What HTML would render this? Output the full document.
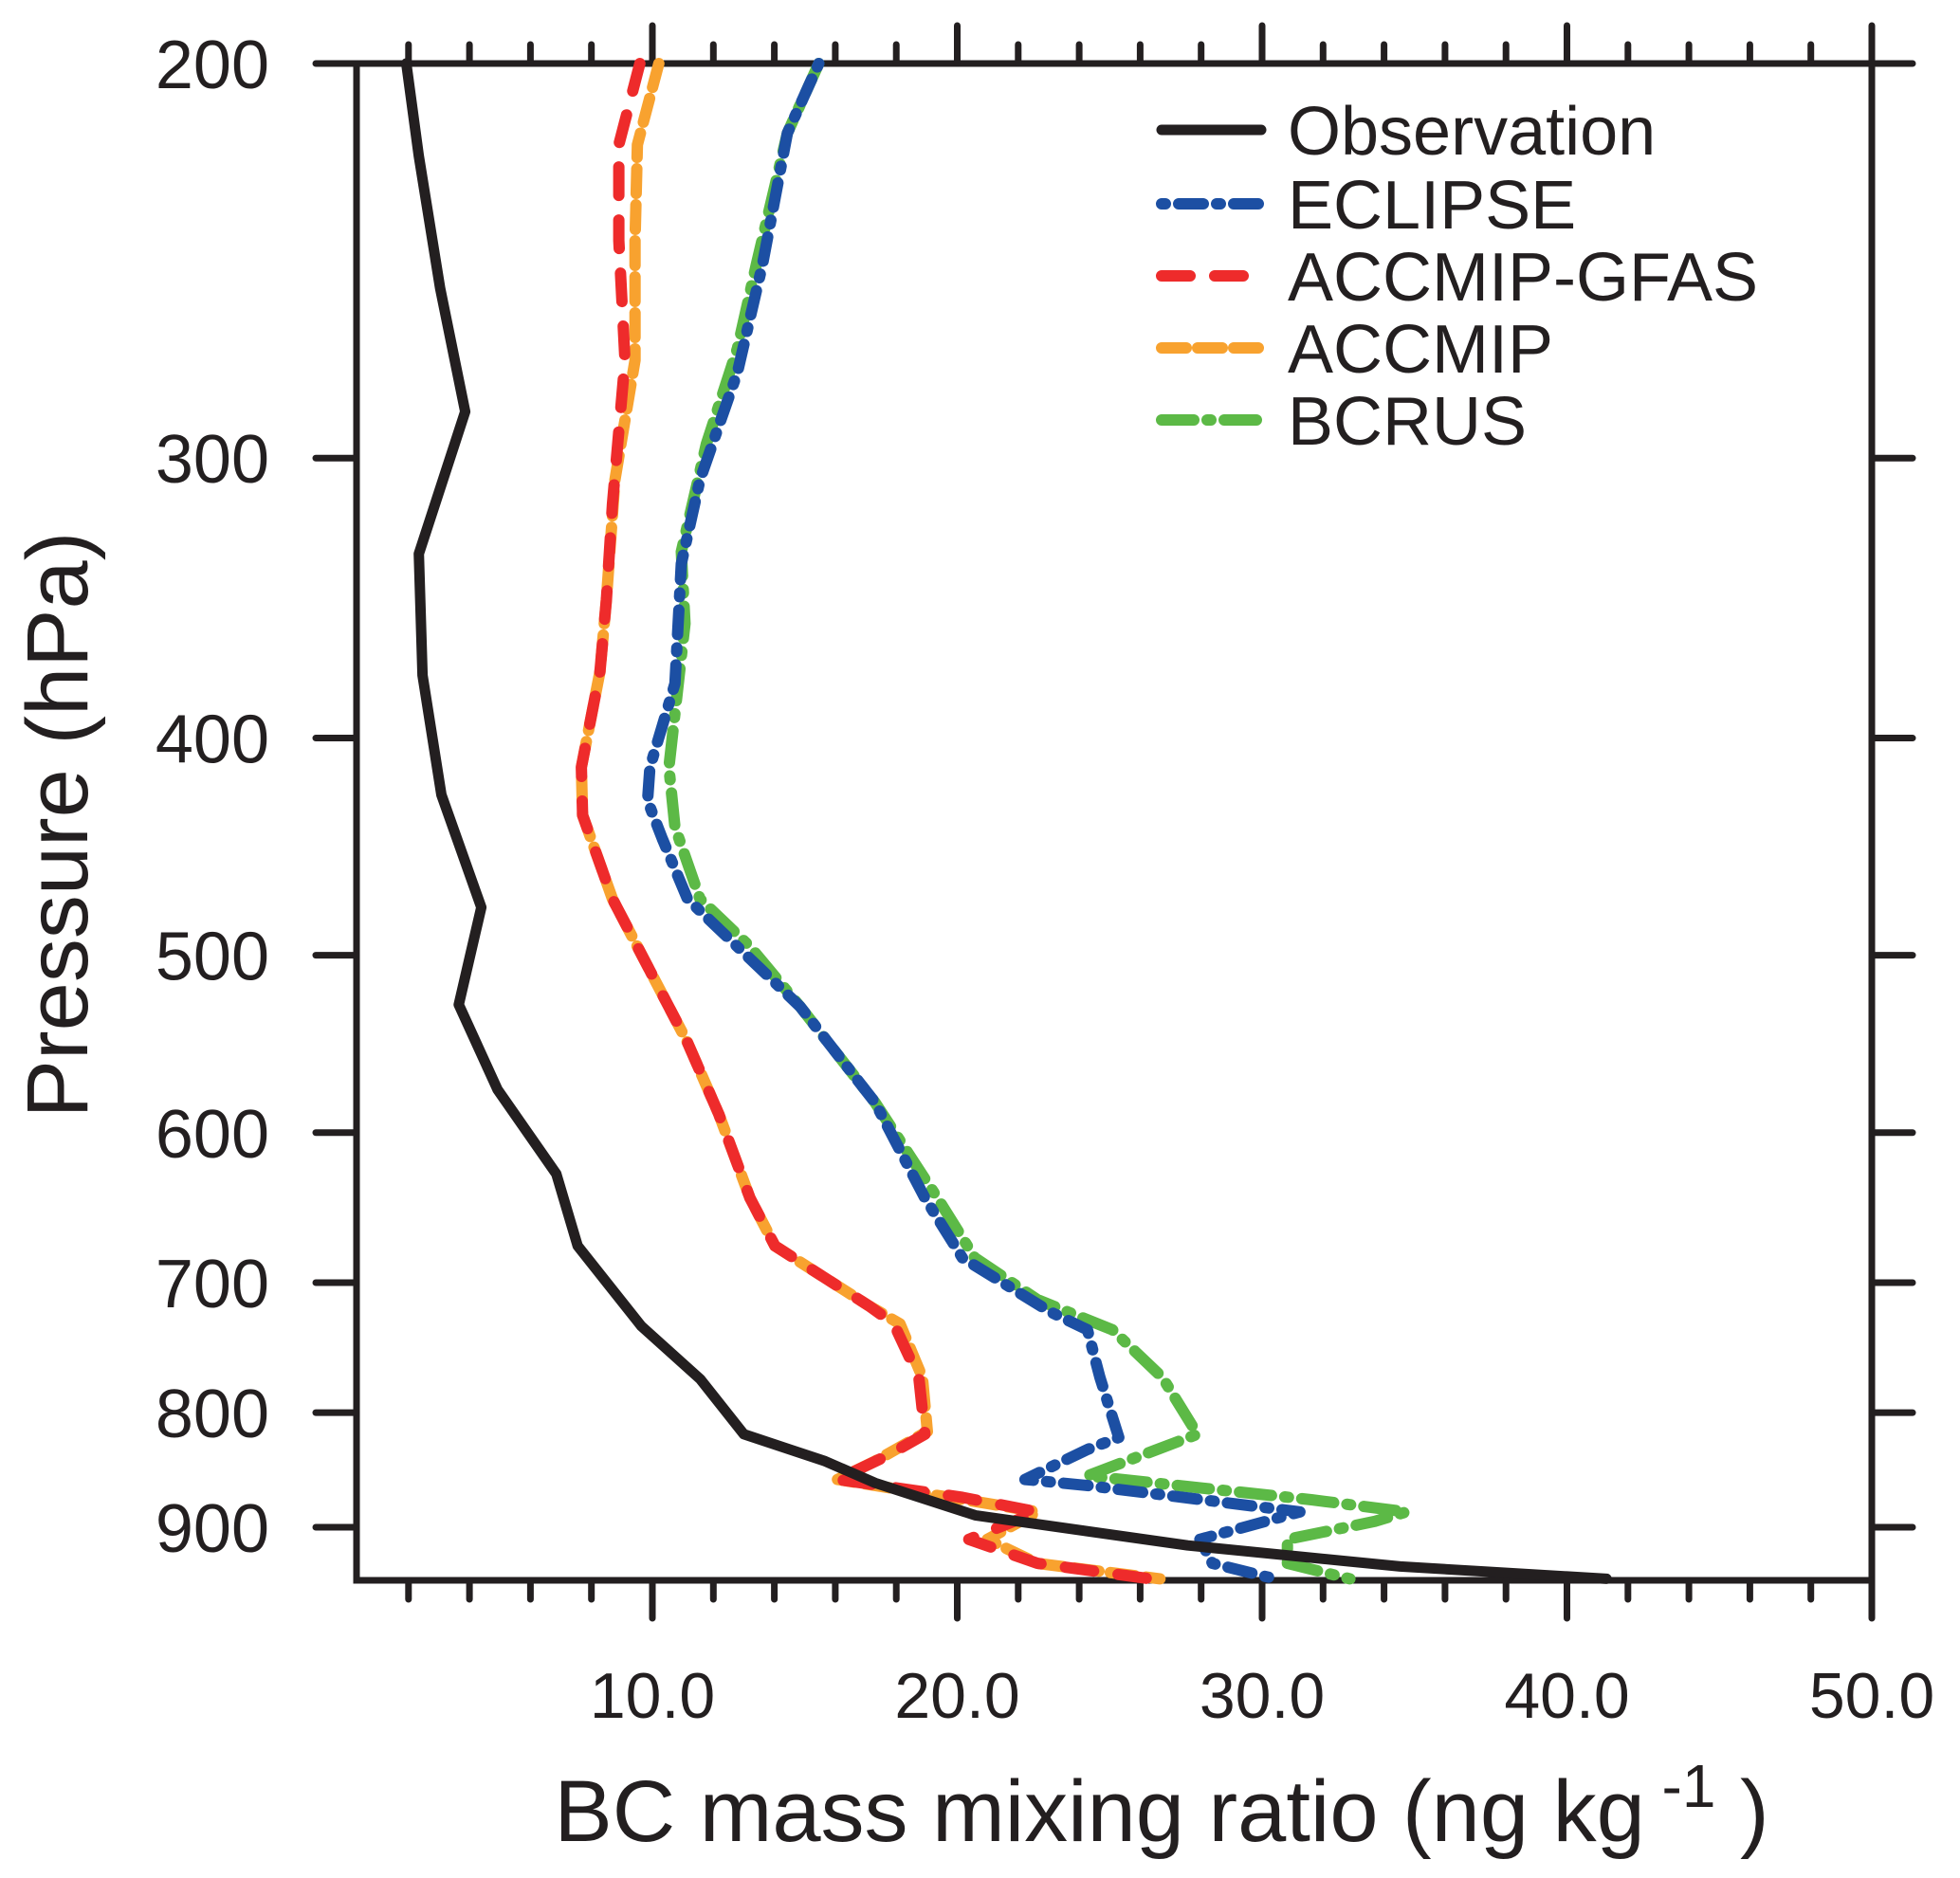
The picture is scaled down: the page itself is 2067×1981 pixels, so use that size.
<!DOCTYPE html>
<html><head><meta charset="utf-8"><style>
html,body{margin:0;padding:0;background:#fff}
svg{display:block}
text{font-family:"Liberation Sans",Arial,sans-serif;fill:#231f20}
</style></head><body>
<svg id="chart" width="2067" height="1981" viewBox="0 0 2067 1981">
<g id="frame"></g>
<g id="series"></g>
<g id="legend"></g>
<text x="1225" y="1942" font-size="92" text-anchor="middle">BC mass mixing ratio (ng kg<tspan font-size="64" dy="-36"> -1</tspan><tspan dy="36"> )</tspan></text>
<text transform="translate(92,870) rotate(-90)" font-size="92" text-anchor="middle">Pressure (hPa)</text>
</svg>
<script>
const xTicks=[10,20,30,40,50];
const xTickLabels=["10.0","20.0","30.0","40.0","50.0"];
const yTicks=[200,300,400,500,600,700,800,900];
const yTickLabels=["200","300","400","500","600","700","800","900"];
const seriesNames=["Observation","ECLIPSE","ACCMIP-GFAS","ACCMIP","BCRUS"];
const obsX=[1.93,2.34,3.04,3.86,2.34,2.46,3.08,4.39,3.65,4.92,6.85,7.55,9.64,11.57,13.0,15.67,17.31,20.59,27.56,34.53,41.3];
const obsP=[200,220,252,286,331,375,424,476,526,574,626,674,732,773,818,841,860,889,917,937,949];
const eclX=[15.46,14.43,13.61,12.79,11.56,10.95,10.74,9.92,9.84,10.33,11.15,13.2,14.84,17.3,18.94,20.17,23.04,24.27,24.68,25.3,24.27,22.22,24.27,31.24,27.96,28.37,30.42];
const eclP=[200,214.8,245.9,274.7,306.8,334.4,378.2,412.2,426.6,443.7,471.9,501.8,527,581.6,641.7,682.4,721.2,734.7,771.7,820.7,830.9,856.9,862.2,885.9,911.3,934,949];
const gfasX=[9.59,8.9,8.9,9.1,8.69,8.49,8.28,7.67,7.71,8.69,9.92,11.15,12.18,13.2,14.02,15.25,17.1,17.92,18.74,18.94,17.71,16.07,20.17,22.63,20.38,22.63,26.32];
const gfasP=[200,217.4,239.9,271.3,314.5,347,373.6,412.2,433,471.9,508,546.9,588.8,641.7,674,690.9,716.8,730.2,771.7,818,836,856.9,872.8,885.9,911.3,934,949];
const accX=[10.21,9.51,9.43,9.43,8.77,8.49,8.28,7.67,7.71,8.69,9.92,11.15,12.18,13.2,14.02,15.25,17.1,18.12,18.86,19.02,17.3,16.07,20.99,22.63,20.99,22.63,26.65];
const accP=[200,217.4,239.9,271.3,306.8,347,373.6,412.2,433,471.9,508,546.9,588.8,641.7,674,690.9,716.8,730.2,771.7,815.7,841,856.9,878.3,885.9,911.3,934,949];
const bcrX=[15.46,14.43,13.41,12.79,11.77,10.95,11.07,10.54,10.74,11.56,13.2,14.84,17.3,19.35,20.58,22.63,25.09,26.73,27.88,24.27,31.65,34.73,33.7,30.83,30.83,32.88];
const bcrP=[200,214.8,245.9,268,295.7,330.3,355.6,412.2,438.3,471.9,495.6,527,581.6,641.7,682.4,712.4,734.7,771.7,818,853.7,875,885.9,894.6,911.3,934,949];

const NS="http://www.w3.org/2000/svg";
const L=376,R=1974,T=67,B=1667;
function sx(v){return 366.5+32.15*v;}
function sy(p){return 67+1544*Math.log(p/200)/Math.log(4.5);}
function mk(tag,attrs,parent){const e=document.createElementNS(NS,tag);for(const k in attrs)e.setAttribute(k,attrs[k]);parent.appendChild(e);return e;}
const frame=document.getElementById('frame');
const stroke={stroke:"#231f20","stroke-width":7,"stroke-linecap":"round",fill:"none"};
let rect=mk('rect',Object.assign({x:L,y:T,width:R-L,height:B-T},stroke),frame);


for(let v=2;v<=50;v+=2){
  const major=v%10===0;const len=major?40:20;const x=sx(v);
  let t=mk('line',Object.assign({x1:x,x2:x,y1:B,y2:B+len},stroke),frame);
  
  
  let t2=mk('line',Object.assign({x1:x,x2:x,y1:T,y2:T-len},stroke),frame);
  
  
}
xTicks.forEach((v,i)=>{
  let tx=mk('text',{x:sx(v),y:1812,'font-size':68,'text-anchor':'middle'},frame);
  tx.textContent=xTickLabels[i];
  
  
});
yTicks.forEach((p,i)=>{
  const y=sy(p);
  let a=mk('line',Object.assign({x1:L-43,x2:L,y1:y,y2:y},stroke),frame);
  
  
  let b=mk('line',Object.assign({x1:R,x2:R+43,y1:y,y2:y},stroke),frame);
  
  
  let tx=mk('text',{x:284,y:y+26,'font-size':72,'text-anchor':'end'},frame);
  tx.textContent=yTickLabels[i];
  
  
});
const styles=[
 {c:"#231f20",d:"",w:11},
 {c:"#1c4fa3",d:"4 14 26 14",w:12},
 {c:"#ee2b2b",d:"30 26",w:12},
 {c:"#f8a22f",d:"26 12",w:12},
 {c:"#5cb946",d:"34 14 4 14",w:12}
];
const data=[[obsX,obsP],[eclX,eclP],[gfasX,gfasP],[accX,accP],[bcrX,bcrP]];
const order=[4,3,2,1,0];
const sg=document.getElementById('series');
order.forEach(i=>{
  const [xs,ps]=data[i];
  const pts=xs.map((v,k)=>sx(v).toFixed(1)+","+sy(ps[k]).toFixed(1)).join(" ");
  const s=styles[i];
  let pl=mk('polyline',{points:pts,fill:"none",stroke:s.c,"stroke-width":s.w,"stroke-linecap":"round","stroke-linejoin":"round"},sg);
  if(s.d)pl.setAttribute('stroke-dasharray',s.d);
  
  
});
const lg=document.getElementById('legend');
const rows=[137,215,291,367,443];
seriesNames.forEach((n,i)=>{
  const s=styles[i];
  let ln=mk('line',{x1:1225,x2:1330,y1:rows[i],y2:rows[i],stroke:s.c,"stroke-width":s.w,"stroke-linecap":"round"},lg);
  if(s.d)ln.setAttribute('stroke-dasharray',s.d);
  
  
  let tx=mk('text',{x:1358,y:rows[i]+26,'font-size':72},lg);
  tx.textContent=n;
  
  
});
</script>
</body></html>
